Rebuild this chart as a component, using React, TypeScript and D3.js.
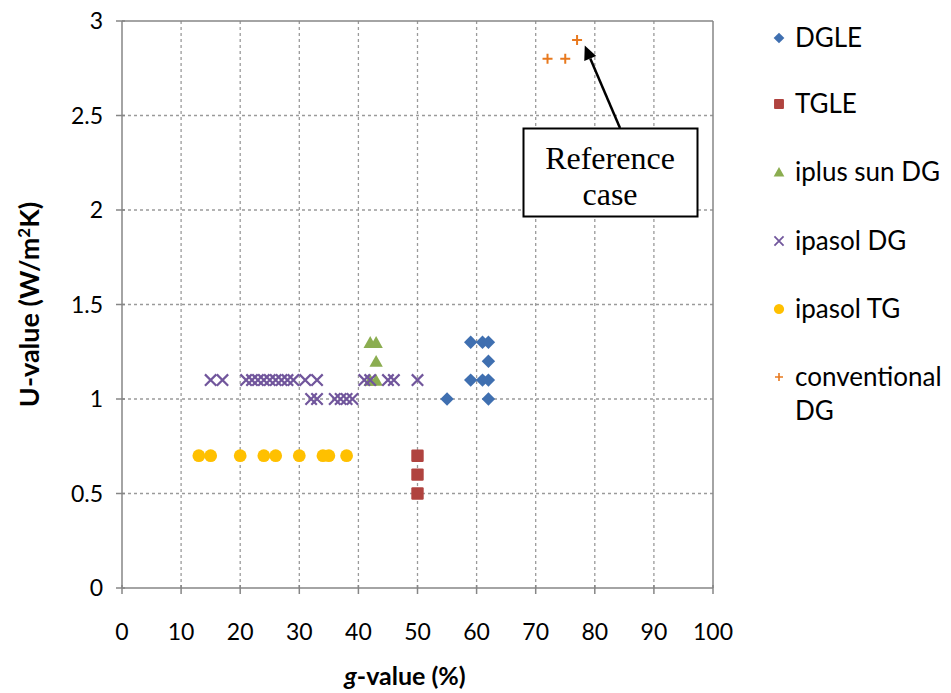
import React from "react";
import * as d3 from "d3";

// g-value (%) and U-value (W/m²K) per glazing product
const dgleG = [59, 61, 62, 62, 59, 61, 62, 55, 62];
const dgleU = [1.3, 1.3, 1.3, 1.2, 1.1, 1.1, 1.1, 1.0, 1.0];

const tgleG = [50, 50, 50];
const tgleU = [0.7, 0.6, 0.5];

const iplusG = [42, 43, 43, 42, 43];
const iplusU = [1.3, 1.3, 1.2, 1.1, 1.1];

const ipasolDgG = [15, 17, 21, 22, 23, 24, 25, 26, 27, 28, 29, 31, 33, 41, 42, 45, 46, 50, 32, 33, 36, 37, 38, 39];
const ipasolDgU = [1.1, 1.1, 1.1, 1.1, 1.1, 1.1, 1.1, 1.1, 1.1, 1.1, 1.1, 1.1, 1.1, 1.1, 1.1, 1.1, 1.1, 1.1, 1.0, 1.0, 1.0, 1.0, 1.0, 1.0];

const ipasolTgG = [13, 15, 20, 24, 26, 30, 34, 35, 38];
const ipasolTgU = [0.7, 0.7, 0.7, 0.7, 0.7, 0.7, 0.7, 0.7, 0.7];

const convG = [72, 75, 77];
const convU = [2.8, 2.8, 2.9];

const xTicks = [0, 10, 20, 30, 40, 50, 60, 70, 80, 90, 100];
const yTicks = [0, 0.5, 1, 1.5, 2, 2.5, 3];
const yTickLabels = ["0", "0.5", "1", "1.5", "2", "2.5", "3"];

const legendLabels = ["DGLE", "TGLE", "iplus sun DG", "ipasol DG", "ipasol TG", "conventional"];

const COLORS = {
  dgle: "#3f6fb0",
  tgle: "#b0433f",
  iplus: "#8bad50",
  ipasolDg: "#71569c",
  ipasolTg: "#ffc000",
  conv: "#e8791e",
};

type Kind = "diamond" | "square" | "triangle" | "cross" | "circle" | "plus";

function Marker({ kind, x, y, color, s = 1 }: { kind: Kind; x: number; y: number; color: string; s?: number }) {
  const t = `translate(${x},${y}) scale(${s})`;
  switch (kind) {
    case "diamond":
      return <path transform={t} d="M0,-6.7L6.7,0L0,6.7L-6.7,0Z" fill={color} />;
    case "square":
      return <rect transform={t} x={-6.2} y={-6.2} width={12.4} height={12.4} rx={1.2} fill={color} />;
    case "triangle":
      return <path transform={t} d="M0,-6.2L6.7,5.6L-6.7,5.6Z" fill={color} />;
    case "circle":
      return <circle transform={t} r={6.4} fill={color} />;
    case "cross":
      return (
        <path transform={t} d="M-5.7,-5.7L5.7,5.7M-5.7,5.7L5.7,-5.7" stroke={color} strokeWidth={2.2} fill="none" />
      );
    case "plus":
      return <path transform={t} d="M-5,0L5,0M0,-5L0,5" stroke={color} strokeWidth={2} fill="none" />;
  }
}

export default function App() {
  const W = 951;
  const H = 693;
  const left = 122;
  const right = 713;
  const top = 21;
  const bottom = 588;

  const x = d3.scaleLinear().domain([0, 100]).range([left, right]);
  const y = d3.scaleLinear().domain([0, 3]).range([bottom, top]);

  const series: { g: number[]; u: number[]; kind: Kind; color: string }[] = [
    { g: dgleG, u: dgleU, kind: "diamond", color: COLORS.dgle },
    { g: tgleG, u: tgleU, kind: "square", color: COLORS.tgle },
    { g: iplusG, u: iplusU, kind: "triangle", color: COLORS.iplus },
    { g: ipasolDgG, u: ipasolDgU, kind: "cross", color: COLORS.ipasolDg },
    { g: ipasolTgG, u: ipasolTgU, kind: "circle", color: COLORS.ipasolTg },
    { g: convG, u: convU, kind: "plus", color: COLORS.conv },
  ];

  const font = "Lato, 'Open Sans', sans-serif";
  const axisColor = "#868686";
  const gridColor = "#9a9a9a";

  const legendY = [38, 104, 172, 241, 309, 377];

  // annotation arrow: from box top to reference point
  const arrowFrom = { x: 620, y: 128 };
  const arrowTo = { x: x(78.3), y: y(2.87) };
  const ang = Math.atan2(arrowTo.y - arrowFrom.y, arrowTo.x - arrowFrom.x);
  const headLen = 14;
  const headW = 6.5;
  const hx = arrowTo.x - headLen * Math.cos(ang);
  const hy = arrowTo.y - headLen * Math.sin(ang);
  const px = -Math.sin(ang) * headW;
  const py = Math.cos(ang) * headW;

  return (
    <svg
      width={W}
      height={H}
      style={{ position: "absolute", left: 0, top: 0, background: "#fff" }}
      fontFamily={font}
    >
      <rect width={W} height={H} fill="#fff" />
      {/* gridlines */}
      {xTicks.slice(1, -1).map((t) => (
        <line key={"gx" + t} x1={x(t)} x2={x(t)} y1={top} y2={bottom} stroke={gridColor} strokeWidth={1.3} strokeDasharray="3,3" />
      ))}
      {yTicks.slice(1, -1).map((t) => (
        <line key={"gy" + t} x1={left} x2={right} y1={y(t)} y2={y(t)} stroke={gridColor} strokeWidth={1.3} strokeDasharray="3,3" />
      ))}
      {/* plot frame */}
      <line x1={left} x2={right} y1={top} y2={top} stroke={axisColor} strokeWidth={1.5} />
      <line x1={right} x2={right} y1={top} y2={bottom} stroke={axisColor} strokeWidth={1.5} />
      {/* axes */}
      <line x1={left} x2={right} y1={bottom} y2={bottom} stroke={axisColor} strokeWidth={1.5} />
      <line x1={left} x2={left} y1={top} y2={bottom} stroke={axisColor} strokeWidth={1.5} />
      {xTicks.map((t) => (
        <g key={"xt" + t}>
          <line x1={x(t)} x2={x(t)} y1={bottom - 3} y2={bottom + 6} stroke={axisColor} strokeWidth={1.5} />
          <text x={x(t)} y={640} textAnchor="middle" fontSize={23} fill="#000">
            {t}
          </text>
        </g>
      ))}
      {yTicks.map((t, i) => (
        <g key={"yt" + t}>
          <line x1={left - 6} x2={left + 3} y1={y(t)} y2={y(t)} stroke={axisColor} strokeWidth={1.5} />
          <text x={103} y={y(t) + 8} textAnchor="end" fontSize={23} fill="#000">
            {yTickLabels[i]}
          </text>
        </g>
      ))}
      {/* axis titles */}
      <text x={405} y={685} textAnchor="middle" fontSize={25} fontWeight="bold" fill="#000">
        <tspan fontStyle="italic">g</tspan>-value (%)
      </text>
      <text
        transform={`translate(39,${(top + bottom) / 2}) rotate(-90)`}
        textAnchor="middle"
        fontSize={27}
        fontWeight="bold"
        fill="#000"
      >
        U-value (W/m<tspan dy={-9} fontSize={17}>2</tspan>
        <tspan dy={9}>K)</tspan>
      </text>
      {/* data */}
      {series.map((s, si) =>
        s.g.map((g, i) => <Marker key={si + "-" + i} kind={s.kind} x={x(g)} y={y(s.u[i])} color={s.color} />)
      )}
      {/* annotation */}
      <line x1={arrowFrom.x} y1={arrowFrom.y} x2={hx} y2={hy} stroke="#000" strokeWidth={2.5} />
      <path d={`M${arrowTo.x},${arrowTo.y}L${hx + px},${hy + py}L${hx - px},${hy - py}Z`} fill="#000" />
      <rect x={523.5} y={128.5} width={174} height={88} fill="#fff" stroke="#000" strokeWidth={2} />
      <text x={610} y={169} textAnchor="middle" fontSize={32} fontFamily="'Liberation Serif', 'Times New Roman', serif" fill="#000">
        Reference
      </text>
      <text x={610} y={205} textAnchor="middle" fontSize={32} fontFamily="'Liberation Serif', 'Times New Roman', serif" fill="#000">
        case
      </text>
      {/* legend */}
      {series.map((s, i) => (
        <g key={"lg" + i}>
          <Marker kind={s.kind} x={779} y={legendY[i]} color={s.color} s={0.8} />
          <text x={795} y={legendY[i] + 9} fontSize={26} fill="#000">
            {legendLabels[i]}
          </text>
        </g>
      ))}
      <text x={795} y={legendY[5] + 9 + 34} fontSize={26} fill="#000">
        DG
      </text>
    </svg>
  );
}
